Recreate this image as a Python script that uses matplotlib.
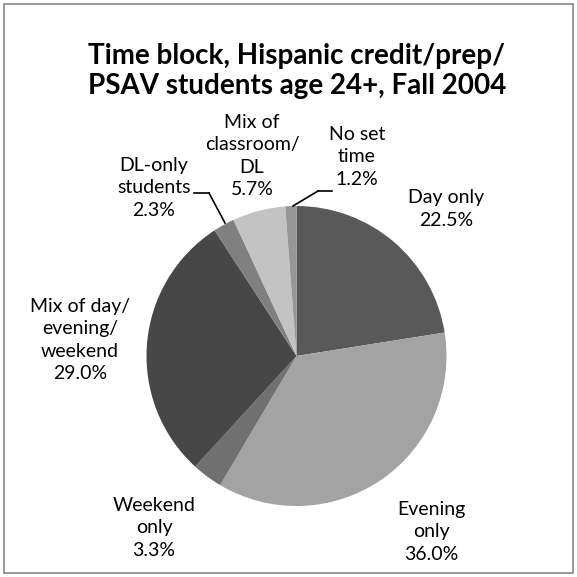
import matplotlib.pyplot as plt
from matplotlib.patches import Rectangle

# data, clockwise from 12 o'clock
labels = ['Day only', 'Evening\nonly', 'Weekend\nonly', 'Mix of day/\nevening/\nweekend',
          'DL-only\nstudents', 'Mix of\nclassroom/\nDL', 'No set\ntime']
shares = [22.5, 36.0, 3.3, 29.0, 2.3, 5.7, 1.2]
colors = ['#595959', '#a3a3a3', '#707070', '#474747', '#808080', '#c3c3c3', '#969696']

# label centres in pixels of the 577px canvas (x, y from top)
label_px = [(446, 209), (431, 532), (154, 528), (80, 340), (154, 188), (252, 156), (357, 157)]

plt.rcParams['font.family'] = ['Lato', 'DejaVu Sans']

fig = plt.figure(figsize=(5.77, 5.77), dpi=100)
ax = fig.add_axes([0, 0, 1, 1])
cx, cy, r = 296.5, 356, 150  # pie centre/radius in px

ax.pie(shares, colors=colors, startangle=90, counterclock=False, radius=1,
       wedgeprops=dict(linewidth=0))
ax.set_xlim(-cx / r, (577 - cx) / r)
ax.set_ylim(-(577 - cy) / r, cy / r)
ax.set_aspect('auto')
ax.axis('off')


def px(x, y):
    return (x - cx) / r, (cy - y) / r


for lab, val, (x, y) in zip(labels, shares, label_px):
    tx, ty = px(x, y)
    ax.text(tx, ty, f'{lab}\n{val:.1f}%', ha='center', va='center',
            fontsize=14, linespacing=1.38, color='black')

# leader lines
for pts in [[(318, 191), (332, 191)], [(293, 206), (318, 191)],
            [(194, 193), (209, 193)], [(209, 193), (225, 223)]]:
    (x0, y0), (x1, y1) = [px(*p) for p in pts]
    ax.plot([x0, x1], [y0, y1], color='black', lw=1.2)

tx, ty = px(297, 71)
ax.text(tx, ty, 'Time block, Hispanic credit/prep/\nPSAV students age 24+, Fall 2004',
        ha='center', va='center', fontsize=20, fontweight='bold', linespacing=1.22)

fig.patches.append(Rectangle((4 / 577, 4 / 577), 569 / 577, 569 / 577,
                             transform=fig.transFigure, fill=False,
                             edgecolor='#868686', lw=1.2))

fig.savefig('out.png', dpi=100)
